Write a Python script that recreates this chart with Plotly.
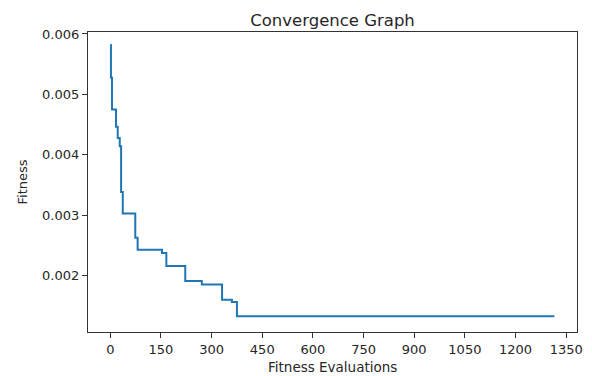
import plotly.graph_objects as go

evals = [0, 2, 5, 17, 22, 28, 32, 37, 74, 81, 153, 166, 222, 271, 331, 360, 375, 1315]
fitness = [0.005818, 0.005275, 0.004751, 0.004463, 0.004280, 0.004143, 0.003385, 0.003026,
           0.002628, 0.002428, 0.002373, 0.002158, 0.001909, 0.001854, 0.001600, 0.001561,
           0.001325, 0.001325]
x_ticks = [0, 150, 300, 450, 600, 750, 900, 1050, 1200, 1350]
y_ticks = [0.002, 0.003, 0.004, 0.005, 0.006]

fig = go.Figure()
fig.add_trace(go.Scatter(x=evals, y=fitness, mode="lines", line=dict(color="#1f77b4", width=2, shape="hv")))

font = "DejaVu Sans"
W, H = 592, 376
L, R, T, B = 88, 15, 32, 44
fig.update_layout(
    width=W, height=H,
    margin=dict(l=L, r=R, t=T, b=B, autoexpand=False),
    paper_bgcolor="white", plot_bgcolor="white",
    showlegend=False,
    font=dict(family=font, size=13, color="#262626"),
    title=dict(text="Convergence Graph", x=(L + W - R) / 2 / W, xanchor="center",
               y=1 - 20 / H, yanchor="middle", font=dict(size=16.5, family=font, color="#262626")),
)
axis_common = dict(showline=True, linecolor="#333333", linewidth=1.2, mirror=True, showgrid=False,
                   zeroline=False, ticks="outside", ticklen=5, tickcolor="#333333", tickwidth=1,
                   automargin=False)
fig.update_xaxes(range=[-66, 1382], tickvals=x_ticks, ticktext=[str(v) for v in x_ticks], **axis_common)
fig.update_yaxes(range=[0.001066, 0.006033], tickvals=y_ticks, ticktext=[f"{v:.3f}" for v in y_ticks],
                 **axis_common)

fig.add_annotation(text="Fitness Evaluations", xref="paper", yref="paper",
                   x=0.5, y=-(367 - (H - B)) / (H - T - B), xanchor="center", yanchor="middle",
                   showarrow=False, font=dict(size=13.5, family=font, color="#262626"))
fig.add_annotation(text="Fitness", xref="paper", yref="paper", textangle=-90,
                   x=-(L - 21.5) / (W - L - R), y=0.5, xanchor="center", yanchor="middle",
                   showarrow=False, font=dict(size=13, family=font, color="#262626"))

fig.write_html("out.html")
